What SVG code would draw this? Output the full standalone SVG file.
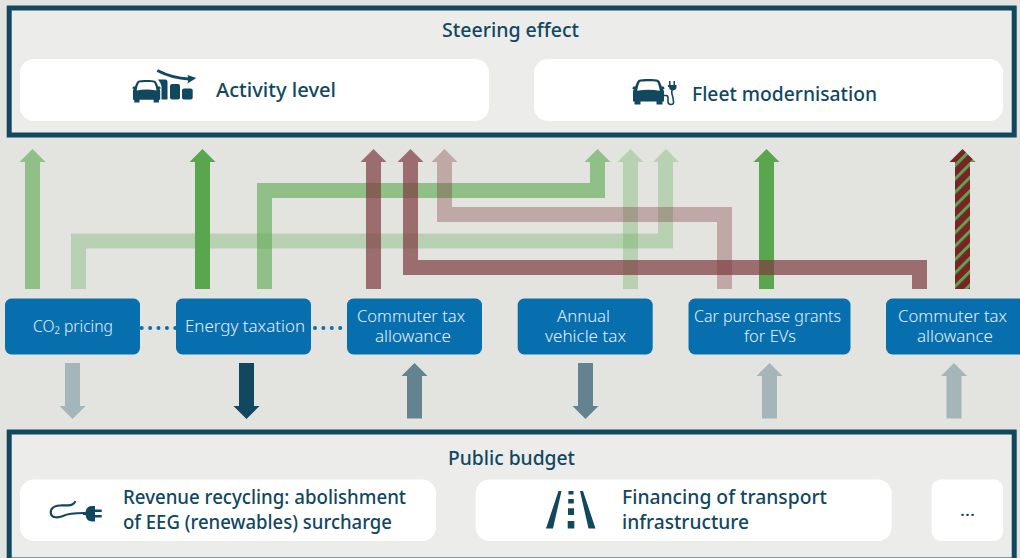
<svg xmlns="http://www.w3.org/2000/svg" width="1020" height="558" viewBox="0 0 1020 558">
<style>
.frame{fill:#ecedeb;stroke:#11475f;stroke-width:5}
.card{fill:#fff}
.node{fill:#086fae}
.h{font-family:"Noto Sans","Liberation Sans",sans-serif;font-size:19px;font-weight:500;fill:#11475f}
.n{font-family:"Noto Sans","Liberation Sans",sans-serif;font-size:16px;font-weight:300;fill:#e4f0f7;text-anchor:middle}
.icon{fill:#11475f}
.cord{fill:none;stroke:#11475f;stroke-width:2.200;stroke-linecap:round}
.dots{fill:none;stroke:#086fae;stroke-width:4;stroke-linecap:round;stroke-dasharray:0 8.4}
.g1{fill:#5aa64f}.g2{fill:#5aa64f;opacity:.6}.g3{fill:#5aa64f;opacity:.3}
.r1{fill:#7d3a3e;opacity:.7}.r2{fill:#7d3a3e;opacity:.35}
.b1{fill:#a5b6ba}.b2{fill:#648390}.b3{fill:#11475f}
</style>
<defs>
<pattern id="stripes" patternUnits="userSpaceOnUse" width="9.5" height="9.5" patternTransform="translate(955 150) rotate(45)">
<rect width="9.5" height="9.5" fill="#7b2226"/>
<rect width="3" height="9.5" fill="#5aa64f"/>
</pattern>
<path id="car" fill-rule="evenodd" d="M6 1C10 -.3 22 -.3 26 1C27.500 2.500 28.500 5.500 29.200 7.500H31Q32 8 32 10H30.500Q31.500 11 31.500 13V22.500H30V25.500H24V22.500H8V25.500H2V22.500H.5V13Q.5 11 1.500 10H0Q0 8 1 7.500H2.800C3.500 5.500 4.500 2.500 6 1ZM7.500 2.800C12 2 20 2 24.500 2.800C25.800 5 26.800 8.500 27.300 11.800C20 10.300 12 10.300 4.700 11.800C5.200 8.500 6.200 5 7.500 2.800Z"/>
</defs>
<rect width="1020" height="558" fill="#e3e4df"/>

<g id="steering-effect">
<rect class="frame" x="9.200" y="8" width="1005" height="127"/>
<text class="h" x="442" y="37" textLength="137" lengthAdjust="spacingAndGlyphs">Steering effect</text>
</g>
<g id="activity-level">
<rect class="card" x="20" y="59" width="469" height="62" rx="14"/>
<use href="#car" class="icon" transform="translate(132.500 80) scale(.88)"/>
<path class="icon" d="M158 79.500H165Q167.500 79.500 167.500 82V99.500H161.500V86Q160.500 82.500 158 79.500Z"/>
<rect class="icon" x="170" y="84" width="10" height="15.500" rx="2"/>
<rect class="icon" x="182" y="88.500" width="10.700" height="11" rx="2"/>
<path d="M157.300 70.500C166 75 175 78.300 189 79" fill="none" stroke="#11475f" stroke-width="3"/>
<path class="icon" d="M196.300 78L187.500 75L188.500 79L187.500 83.500Z"/>
<text class="h" x="216" y="97" textLength="120" lengthAdjust="spacingAndGlyphs">Activity level</text>
</g>
<g id="fleet-modernisation">
<rect class="card" x="534" y="59" width="469" height="62" rx="14"/>
<use href="#car" class="icon" transform="translate(632.500 79)"/>
<path class="cord" style="stroke-width:1.600" d="M663 95.500H666Q668 95.500 668 98V101.500Q668 104.500 671 104.500Q674 104.500 673.500 101.500Q673 97 672 94Q671.500 92 672 90"/>
<path class="icon" d="M669 85V81H670.500V85H673.500V81H675V85H676.500V87Q676.500 90 672.800 90.500Q669 90 669 87H668V85Z"/>
<text class="h" x="692" y="101" textLength="185" lengthAdjust="spacingAndGlyphs">Fleet modernisation</text>
</g>

<g id="connectors">
<polygon class="g2" points="25,289 25,162 19.500,162 32.500,149 45.500,162 40,162 40,289"/>
<polygon class="g3" points="71,289 71,233.500 658,233.500 658,162 653,162 666,149 679,162 673,162 673,248.500 86,248.500 86,289"/>
<polygon class="g3" points="623,289 623,162 617.500,162 630.500,149 643.500,162 638,162 638,289"/>
<polygon class="g2" points="257,289 257,183 590,183 590,162 584.500,162 597.500,149 610.500,162 605,162 605,198 272,198 272,289"/>
<polygon class="g1" points="195,289 195,162 189.500,162 202.500,149 215.500,162 210,162 210,289"/>
<polygon class="g1" points="759,289 759,162 753.500,162 766.500,149 779.500,162 774,162 774,289"/>
<polygon class="r2" points="717,289 717,222 437,222 437,162 431.500,162 444.500,149 457.500,162 452,162 452,207 732,207 732,289"/>
<polygon class="r1" points="366,289 366,162 360.500,162 373.500,149 386.500,162 381,162 381,289"/>
<polygon class="r1" points="912,289 912,275 403,275 403,260 403,162 397.500,162 410.500,149 423.500,162 418,162 418,260 927,260 927,289"/>
<polygon fill="url(#stripes)" points="955,289 955,162 949.500,162 962.500,149 975.500,162 970,162 970,289"/>
<polygon class="b1" points="65,363 80,363 80,406 85.500,406 72.500,419 59.500,406 65,406"/>
<polygon class="b3" points="239,363 254,363 254,406 259.500,406 246.500,419 233.500,406 239,406"/>
<polygon class="b2" points="407,418.500 422,418.500 422,376 427.500,376 414.500,363 401.500,376 407,376"/>
<polygon class="b2" points="578,363 593,363 593,406 598.500,406 585.500,419 572.500,406 578,406"/>
<polygon class="b1" points="762,418.500 777,418.500 777,376 782.500,376 769.500,363 756.500,376 762,376"/>
<polygon class="b1" points="946.500,418.500 961.500,418.500 961.500,376 967,376 954,363 941,376 946.500,376"/>
<path class="dots" d="M141.700 328H176"/>
<path class="dots" d="M315 328H342"/>
</g>

<g id="co2-pricing">
<rect class="node" x="5" y="298.500" width="135" height="56" rx="6.500"/>
<text class="n" x="73" y="332" textLength="80" lengthAdjust="spacingAndGlyphs">CO₂ pricing</text>
</g>
<g id="energy-taxation">
<rect class="node" x="176" y="298.500" width="135" height="56" rx="6.500"/>
<text class="n" x="245" y="332" textLength="120" lengthAdjust="spacingAndGlyphs">Energy taxation</text>
</g>
<g id="commuter-tax-1">
<rect class="node" x="347" y="298.500" width="135" height="56" rx="6.500"/>
<text class="n" x="411" y="322" textLength="108" lengthAdjust="spacingAndGlyphs">Commuter tax</text>
<text class="n" x="413" y="342" textLength="76" lengthAdjust="spacingAndGlyphs">allowance</text>
</g>
<g id="annual-vehicle-tax">
<rect class="node" x="517.700" y="298.500" width="135" height="56" rx="6.500"/>
<text class="n" x="583.500" y="322" textLength="53" lengthAdjust="spacingAndGlyphs">Annual</text>
<text class="n" x="585.500" y="342" textLength="81" lengthAdjust="spacingAndGlyphs">vehicle tax</text>
</g>
<g id="car-purchase-grants">
<rect class="node" x="688.500" y="298.500" width="162" height="56" rx="6.500"/>
<text class="n" x="767.500" y="322" textLength="147" lengthAdjust="spacingAndGlyphs">Car purchase grants</text>
<text class="n" x="770" y="342" textLength="52" lengthAdjust="spacingAndGlyphs">for EVs</text>
</g>
<g id="commuter-tax-2">
<rect class="node" x="886" y="298.500" width="140" height="56" rx="6.500"/>
<text class="n" x="952.500" y="322" textLength="109" lengthAdjust="spacingAndGlyphs">Commuter tax</text>
<text class="n" x="955" y="342" textLength="76" lengthAdjust="spacingAndGlyphs">allowance</text>
</g>

<g id="public-budget">
<rect class="frame" x="9.200" y="432" width="1005" height="128"/>
<text class="h" x="448" y="465" textLength="127" lengthAdjust="spacingAndGlyphs">Public budget</text>
</g>
<g id="revenue-recycling">
<rect class="card" x="20" y="479.500" width="416" height="61.500" rx="14"/>
<path class="cord" d="M75 502C72 507 66 505 60 505.500C52 506 50 510 51 514C52 518 58 518 63 516C69 513 76 513 84 513"/>
<path class="icon" d="M83 512H85.500Q86.500 506 92 506H95V509.500H101.700V512H95V515H101.700V517.500H95V521.500H92Q86.500 521.500 85.500 515H83Z"/>
<text class="h" x="123" y="504" textLength="283" lengthAdjust="spacingAndGlyphs">Revenue recycling: abolishment</text>
<text class="h" x="123" y="529" textLength="269" lengthAdjust="spacingAndGlyphs">of EEG (renewables) surcharge</text>
</g>
<g id="financing-infrastructure">
<rect class="card" x="475.700" y="479.500" width="416" height="61.500" rx="14"/>
<path class="icon" d="M558.500 491H561.500L553 528.500H546ZM580 491H583L595.500 528.500H588.500Z"/>
<path class="icon" d="M568.500 491H573.500V494.500H568.500ZM568.200 499H573.800V503.500H568.200ZM568 508.300H574V515H568ZM567.700 521H574.300V528.500H567.700Z"/>
<text class="h" x="622" y="504" textLength="205" lengthAdjust="spacingAndGlyphs">Financing of transport</text>
<text class="h" x="622" y="529" textLength="127" lengthAdjust="spacingAndGlyphs">infrastructure</text>
</g>
<g id="more">
<rect class="card" x="931.700" y="479.500" width="71.300" height="61.500" rx="9"/>
<text class="h" x="960" y="516" textLength="15" lengthAdjust="spacingAndGlyphs" style="font-size:16px">...</text>
</g>
</svg>
